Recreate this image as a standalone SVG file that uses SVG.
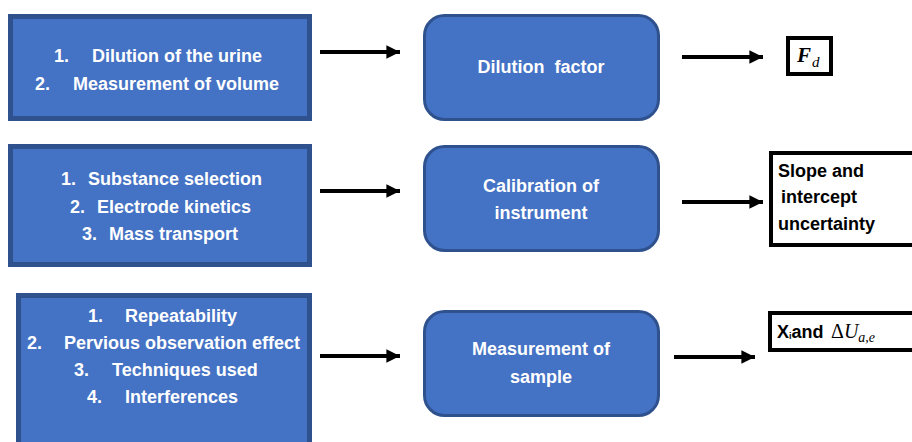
<svg xmlns="http://www.w3.org/2000/svg" width="912" height="442" viewBox="0 0 912 442">
<defs>
<marker id="ah" viewBox="0 0 10 10" refX="10" refY="5" markerWidth="3.4" markerHeight="4" markerUnits="strokeWidth" orient="auto">
<path d="M0,0 L10,5 L0,10 Z" fill="#000"/>
</marker>
<style>
.lbox{fill:#4472C4;stroke:#2F528F;stroke-width:5}
.rbox{fill:#4472C4;stroke:#2F528F;stroke-width:3}
.obox{fill:#fff;stroke:#000;stroke-width:4}
.wt{font-family:"Liberation Sans",Arial,sans-serif;font-weight:bold;font-size:18px;fill:#fff}
.bt{font-family:"Liberation Sans",Arial,sans-serif;font-weight:bold;font-size:18px;fill:#000}
.math{font-family:"Liberation Serif","Times New Roman",serif;fill:#000}
.conn line{stroke:#000;stroke-width:4;marker-end:url(#ah)}
</style>
</defs>
<rect width="912" height="442" fill="#fff"/>

<g id="inputs1">
<rect class="lbox" x="10.5" y="16.5" width="299" height="102"/>
<text class="wt" y="62"><tspan x="54">1.</tspan><tspan x="92">Dilution of the urine</tspan></text>
<text class="wt" y="90"><tspan x="35">2.</tspan><tspan x="73">Measurement of volume</tspan></text>
</g>
<g id="inputs2">
<rect class="lbox" x="10.5" y="146.5" width="299" height="118"/>
<text class="wt" y="185"><tspan x="61">1.</tspan><tspan x="88">Substance selection</tspan></text>
<text class="wt" y="213"><tspan x="70">2.</tspan><tspan x="97">Electrode kinetics</tspan></text>
<text class="wt" y="240"><tspan x="82">3.</tspan><tspan x="109">Mass transport</tspan></text>
</g>
<g id="inputs3">
<rect class="lbox" x="18.5" y="295.5" width="291" height="152"/>
<text class="wt" y="322"><tspan x="88">1.</tspan><tspan x="125">Repeatability</tspan></text>
<text class="wt" y="349"><tspan x="27">2.</tspan><tspan x="64">Pervious observation effect</tspan></text>
<text class="wt" y="376"><tspan x="74">3.</tspan><tspan x="112">Techniques used</tspan></text>
<text class="wt" y="403"><tspan x="87">4.</tspan><tspan x="125">Interferences</tspan></text>
</g>

<g id="dilution">
<rect class="rbox" x="424.5" y="15.5" width="234" height="104" rx="20"/>
<text class="wt" x="541" y="73" text-anchor="middle" xml:space="preserve">Dilution  factor</text>
</g>
<g id="calibration">
<rect class="rbox" x="424.5" y="146.5" width="234" height="104" rx="20"/>
<text class="wt" x="541" y="192" text-anchor="middle">Calibration of</text>
<text class="wt" x="541" y="219" text-anchor="middle">instrument</text>
</g>
<g id="measurement">
<rect class="rbox" x="424.5" y="311.5" width="234" height="104" rx="20"/>
<text class="wt" x="541" y="355" text-anchor="middle">Measurement of</text>
<text class="wt" x="541" y="383" text-anchor="middle">sample</text>
</g>

<g id="fd">
<rect class="obox" x="788" y="38" width="43" height="36"/>
<text class="math" x="797" y="62" font-size="21" font-style="italic" font-weight="bold">F<tspan font-size="15" font-weight="normal" dx="1" dy="5">d</tspan></text>
</g>
<g id="slope">
<rect class="obox" x="771" y="153" width="145" height="92"/>
<text class="bt" x="778" y="177">Slope and</text>
<text class="bt" x="781" y="203">intercept</text>
<text class="bt" x="778" y="230">uncertainty</text>
</g>
<g id="xi">
<rect class="obox" x="770" y="313" width="146" height="37"/>
<text class="bt" x="777" y="338">X<tspan font-size="9" dy="1">i</tspan><tspan dy="-1">and</tspan></text>
<text class="math" x="831" y="338" font-size="20">Δ<tspan font-style="italic">U</tspan><tspan font-style="italic" font-size="14" dy="4">a,e</tspan></text>
</g>

<g id="connectors" class="conn">
<line x1="320" y1="52" x2="400" y2="52"/>
<line x1="682" y1="57" x2="763" y2="57"/>
<line x1="320" y1="191" x2="400" y2="191"/>
<line x1="682" y1="202" x2="763" y2="202"/>
<line x1="320" y1="356" x2="400" y2="356"/>
<line x1="674" y1="357" x2="755" y2="357"/>
</g>
</svg>
